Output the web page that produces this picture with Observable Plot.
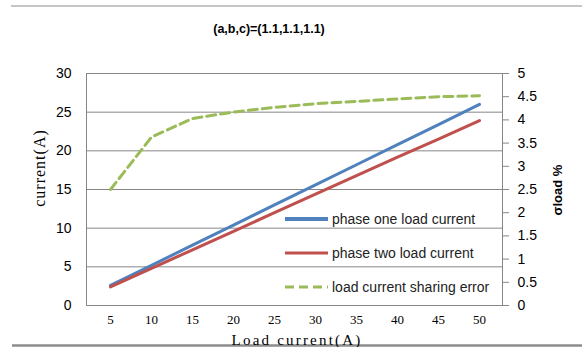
<!DOCTYPE html>
<html><head><meta charset="utf-8">
<script src="https://cdn.jsdelivr.net/npm/d3@7"></script>
<script src="https://cdn.jsdelivr.net/npm/@observablehq/plot@0.6"></script>
<style>body{margin:0;background:#fff;} svg{display:block;}</style>
</head><body><div id="chart"></div>
<script>
const loads = [5, 10, 15, 20, 25, 30, 35, 40, 45, 50];
const phaseOne = [2.6, 5.2, 7.8, 10.4, 13.0, 15.6, 18.2, 20.8, 23.4, 26.0];
const phaseTwo = [2.4, 4.8, 7.2, 9.6, 12.0, 14.4, 16.8, 19.2, 21.5, 23.9];
const sharingError = [2.5, 3.63, 4.03, 4.17, 4.27, 4.35, 4.40, 4.45, 4.50, 4.52];
const leftTicks = [0, 5, 10, 15, 20, 25, 30];
const rightTicks = [0, 0.5, 1, 1.5, 2, 2.5, 3, 3.5, 4, 4.5, 5];
const seriesNames = ["phase one load current", "phase two load current", "load current sharing error"];
const colors = ["#4F81BD", "#C0504D", "#9BBB59"];

const ratio = 30 / 5; // right axis 0..5 mapped onto left 0..30
const rows = loads.map((l, i) => ({load: l, one: phaseOne[i], two: phaseTwo[i], err: sharingError[i]}));
const grey = "#868686";

const chart = Plot.plot({
  width: 582, height: 347,
  marginLeft: 86, marginRight: 80, marginTop: 73, marginBottom: 42,
  style: {fontFamily: "Liberation Sans", fontSize: "14px", color: "#000", background: "#fff"},
  x: {type: "point", domain: loads, padding: 0.5, axis: null},
  y: {domain: [0, 30], axis: null},
  marks: [
    Plot.gridY(leftTicks, {stroke: grey, strokeOpacity: 1, strokeWidth: 1}),
    Plot.frame({stroke: grey, strokeWidth: 1}),
    Plot.axisY({anchor: "left", ticks: leftTicks, tickSize: 0, tickPadding: 15, fontSize: 14, label: null}),
    Plot.axisY({anchor: "right", ticks: rightTicks.map(v => v * ratio), tickSize: 6, tickPadding: 9, stroke: grey,
      fontSize: 14, tickFormat: d => String(+(d / ratio).toFixed(1)), label: null}),
    Plot.axisX({anchor: "bottom", tickSize: 0, tickPadding: 9, fontSize: 13, fontFamily: "Liberation Serif", label: null}),
    Plot.line(rows, {x: "load", y: d => d.err * ratio, stroke: colors[2], strokeWidth: 3, strokeDasharray: "9,5"}),
    Plot.line(rows, {x: "load", y: "one", stroke: colors[0], strokeWidth: 3}),
    Plot.line(rows, {x: "load", y: "two", stroke: colors[1], strokeWidth: 3})
  ]
});

const svg = d3.select(chart);
// chart border lines
svg.append("line").attr("x1", 11).attr("x2", 582).attr("y1", 6).attr("y2", 6).attr("stroke", "#8c8c8c").attr("stroke-width", 1);
svg.append("line").attr("x1", 12).attr("x2", 582).attr("y1", 345.5).attr("y2", 345.5).attr("stroke", "#8c8c8c").attr("stroke-width", 2.5);
// title
svg.append("text").attr("x", 269).attr("y", 33).attr("text-anchor", "middle")
  .attr("font-family", "Liberation Sans").attr("font-weight", "bold").attr("font-size", 12.5).attr("fill", "#000")
  .text("(a,b,c)=(1.1,1.1,1.1)");
// axis labels
svg.append("text").attr("transform", "translate(45,168) rotate(-90)").attr("text-anchor", "middle")
  .attr("font-family", "Liberation Serif").attr("font-size", 16).attr("letter-spacing", 1).attr("fill", "#000")
  .text("current(A)");
svg.append("text").attr("transform", "translate(562,190) rotate(-90)").attr("text-anchor", "middle")
  .attr("font-family", "Liberation Sans").attr("font-weight", "bold").attr("font-size", 13).attr("fill", "#000")
  .text("σload %");
svg.append("text").attr("x", 297).attr("y", 345).attr("text-anchor", "middle")
  .attr("font-family", "Liberation Serif").attr("font-size", 15).attr("letter-spacing", 2.2).attr("fill", "#000")
  .text("Load current(A)");
// legend
const ly = [219, 253, 287];
seriesNames.forEach((name, i) => {
  svg.append("line").attr("x1", 285).attr("x2", 328).attr("y1", ly[i]).attr("y2", ly[i])
    .attr("stroke", colors[i]).attr("stroke-width", i === 0 ? 4 : 3)
    .attr("stroke-dasharray", i === 2 ? "9,5" : null);
  svg.append("text").attr("x", 332).attr("y", ly[i] + 5).attr("text-anchor", "start")
    .attr("font-family", "Liberation Sans").attr("font-size", 14).attr("fill", "#222")
    .text(name);
});
document.getElementById("chart").appendChild(chart);
</script>
</body></html>
